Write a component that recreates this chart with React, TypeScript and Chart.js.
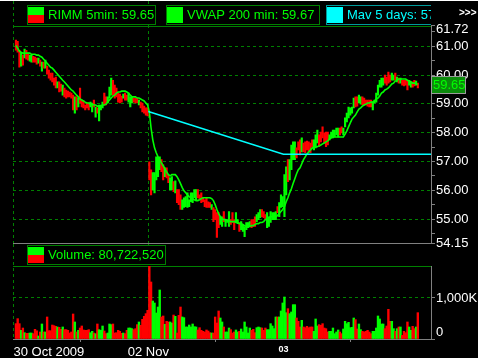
import React, { useEffect, useRef } from 'react';
import { Chart, registerables } from 'chart.js';

Chart.register(...registerables);

const W = 478;
const H = 358;
const FONT = '"Liberation Sans", Arial, Helvetica, sans-serif';

const UP = '#00ff00';
const DOWN = '#ff0000';
const MAV = '#00ffff';
const GRID = '#008000';
const AXIS = '#808080';
const TEXT = '#ffffff';

// RIMM 5-minute bars, numbered 1..233 along the x axis
// (30 Oct: 1-77, 02 Nov: 78-155, 03 Nov: 156-233)
const highs = [
  // 30 Oct
  61.21, 61.17, 60.86, 60.79, 60.69, 60.90, 60.86, 60.76, 60.69, 60.69,
  60.65, 60.62, 60.59, 60.59, 60.52, 60.45, 60.45, 60.52, 60.31, 60.17,
  60.07, 60.07, 59.89, 59.93, 59.76, 59.76, 59.69, 59.65, 59.55, 59.48,
  59.44, 59.41, 59.37, 59.30, 59.24, 59.24, 59.20, 59.55, 59.13, 59.10,
  58.96, 59.03, 59.03, 59.06, 59.03, 59.13, 58.89, 58.86, 58.96, 58.96,
  59.06, 59.37, 59.24, 59.24, 59.58, 59.89, 59.82, 59.65, 59.55, 59.37,
  59.34, 59.27, 59.34, 59.37, 59.30, 59.37, 59.24, 59.24, 59.20, 59.20,
  59.20, 59.13, 59.06, 59.03, 58.92, 58.86, 58.86,
  // 02 Nov
  56.99, 56.71, 56.61, 56.61, 57.16, 57.16, 57.16, 57.06, 56.88, 56.78,
  56.78, 56.54, 56.43, 56.47, 56.30, 56.33, 56.02, 56.02, 55.84, 55.67,
  55.74, 55.78, 55.91, 55.67, 55.91, 55.91, 56.02, 56.02, 56.02, 55.84,
  55.91, 55.74, 55.67, 55.74, 55.60, 55.57, 55.50, 55.40, 55.33, 55.22,
  55.22, 55.08, 55.08, 55.26, 54.98, 54.98, 55.26, 54.98, 55.22, 54.98,
  55.22, 54.98, 54.88, 54.91, 54.81, 54.74, 54.88, 54.88, 54.91, 54.98,
  54.98, 55.08, 55.15, 55.22, 55.33, 55.33, 55.26, 55.15, 55.22, 55.08,
  55.26, 55.22, 55.22, 55.26, 55.43, 55.57, 55.84, 55.78,
  // 03 Nov
  56.54, 56.81, 57.06, 57.06, 57.57, 57.68, 57.68, 57.47, 57.68, 57.75,
  57.82, 57.64, 57.68, 57.71, 57.68, 57.64, 57.75, 57.75, 57.92, 58.09,
  57.92, 58.02, 58.20, 57.99, 58.02, 58.02, 57.92, 58.02, 58.09, 58.09,
  58.16, 58.16, 58.16, 58.20, 58.16, 58.51, 58.68, 58.89, 58.86, 58.89,
  59.20, 59.24, 59.24, 59.30, 59.24, 59.24, 59.20, 59.13, 59.13, 59.13,
  59.13, 59.06, 59.13, 59.37, 59.65, 59.82, 59.89, 59.89, 60.00, 59.93,
  60.10, 60.00, 60.07, 60.00, 60.07, 59.93, 59.89, 59.89, 59.82, 59.82,
  59.82, 59.82, 59.82, 59.76, 59.76, 59.82, 59.79, 59.72,
];

const lows = [
  // 30 Oct
  60.86, 60.79, 60.27, 60.31, 60.34, 60.59, 60.55, 60.52, 60.48, 60.45,
  60.45, 60.45, 60.38, 60.41, 60.31, 60.13, 60.24, 60.24, 60.03, 59.89,
  59.82, 59.76, 59.65, 59.55, 59.55, 59.41, 59.44, 59.30, 59.24, 59.20,
  59.24, 59.24, 59.20, 58.79, 58.68, 58.79, 58.89, 59.03, 58.89, 58.86,
  58.79, 58.86, 58.79, 58.89, 58.72, 58.89, 58.54, 58.68, 58.41, 58.79,
  58.86, 58.96, 58.96, 59.03, 59.20, 59.30, 59.30, 59.20, 59.24, 59.06,
  59.03, 59.06, 59.20, 59.13, 59.13, 59.06, 58.89, 59.03, 59.06, 59.03,
  59.03, 58.96, 58.86, 58.72, 58.68, 58.61, 58.58,
  // 02 Nov
  56.36, 55.84, 56.02, 55.91, 56.36, 56.47, 56.71, 56.64, 56.36, 56.47,
  56.43, 56.26, 56.02, 56.02, 55.95, 55.91, 55.57, 55.50, 55.33, 55.33,
  55.40, 55.43, 55.40, 55.43, 55.60, 55.57, 55.74, 55.67, 55.74, 55.67,
  55.57, 55.60, 55.43, 55.40, 55.40, 55.40, 55.33, 54.91, 54.98, 54.36,
  54.70, 54.81, 54.74, 54.91, 54.74, 54.88, 54.74, 54.81, 54.88, 54.63,
  54.88, 54.84, 54.57, 54.63, 54.57, 54.39, 54.63, 54.70, 54.74, 54.70,
  54.74, 54.74, 54.91, 54.98, 55.05, 55.08, 55.05, 54.98, 54.70, 54.74,
  54.88, 54.98, 54.98, 54.98, 55.22, 55.08, 55.40, 55.43,
  // 03 Nov
  55.08, 55.84, 56.30, 56.36, 56.71, 57.06, 57.06, 57.12, 57.40, 57.23,
  57.33, 57.33, 57.30, 57.40, 57.33, 57.30, 57.51, 57.40, 57.47, 57.64,
  57.51, 57.68, 57.82, 57.64, 57.51, 57.57, 57.75, 57.82, 57.82, 57.85,
  57.92, 57.85, 57.92, 57.99, 57.92, 58.20, 58.37, 58.51, 58.61, 58.68,
  58.86, 58.89, 58.92, 59.03, 58.99, 58.96, 58.96, 58.96, 58.92, 58.89,
  58.89, 58.79, 59.03, 59.06, 59.30, 59.58, 59.58, 59.65, 59.72, 59.65,
  59.72, 59.76, 59.82, 59.82, 59.82, 59.76, 59.72, 59.72, 59.65, 59.62,
  59.65, 59.48, 59.65, 59.58, 59.58, 59.62, 59.65, 59.55,
];

// 1 = bar closed up (green), 0 = closed down (red)
const upBars = [
  0, 0, 0, 1, 0, 1, 0, 0, 1, 1,
  0, 0, 0, 1, 0, 1, 0, 1, 0, 0,
  0, 0, 0, 0, 1, 0, 0, 1, 0, 0,
  0, 0, 0, 0, 1, 0, 1, 0, 0, 0,
  0, 0, 0, 1, 1, 0, 1, 0, 1, 1,
  1, 0, 0, 1, 1, 1, 0, 0, 0, 0,
  0, 0, 1, 0, 0, 1, 1, 1, 0, 0,
  0, 1, 0, 0, 0, 0, 0,
  0, 0, 1, 1, 1, 1, 1, 0, 0, 1,
  0, 0, 1, 1, 0, 1, 0, 0, 0, 1,
  1, 1, 1, 1, 1, 1, 1, 1, 0, 0,
  0, 0, 0, 0, 0, 0, 1, 0, 0, 0,
  0, 1, 1, 0, 1, 1, 1, 0, 0, 0,
  1, 1, 0, 1, 1, 1, 1, 1, 1, 0,
  0, 0, 1, 1, 1, 0, 0, 0, 1, 1,
  1, 1, 1, 1, 0, 1, 1, 1,
  1, 1, 0, 1, 1, 1, 1, 0, 0, 0,
  1, 0, 0, 0, 0, 0, 0, 1, 1, 1,
  0, 0, 0, 0, 0, 0, 1, 1, 1, 1,
  1, 1, 0, 0, 1, 1, 1, 1, 1, 1,
  1, 0, 0, 1, 1, 0, 0, 0, 0, 0,
  0, 1, 1, 1, 1, 1, 1, 1, 0, 0,
  0, 0, 1, 1, 0, 1, 0, 1, 0, 0,
  0, 0, 1, 1, 0, 0, 1, 0,
];

// volume per bar, thousands of shares
const volumeK = [
  374, 496, 374, 211, 268, 154, 138, 138, 146, 146,
  130, 236, 200, 73, 171, 366, 171, 171, 537, 203,
  203, 341, 325, 309, 293, 285, 236, 293, 228, 228,
  211, 146, 171, 610, 415, 171, 211, 268, 317, 220,
  211, 211, 228, 154, 187, 146, 130, 366, 228, 211,
  317, 195, 130, 146, 366, 350, 366, 146, 154, 211,
  187, 138, 146, 130, 211, 268, 268, 252, 228, 252,
  350, 415, 333, 480, 553, 618, 700,
  1780, 1390, 927, 878, 634, 780, 1195, 537, 561, 358,
  431, 415, 415, 390, 585, 553, 146, 577, 780, 537,
  520, 293, 293, 341, 293, 366, 301, 293, 220, 276,
  211, 187, 171, 220, 195, 154, 146, 146, 537, 390,
  683, 512, 415, 293, 171, 171, 268, 228, 146, 171,
  220, 171, 187, 244, 171, 415, 293, 146, 268, 211,
  236, 154, 276, 293, 276, 268, 211, 268, 228, 228,
  374, 317, 252, 537, 537, 537, 683, 878,
  1024, 642, 740, 618, 659, 837, 837, 512, 431, 293,
  455, 293, 276, 309, 276, 293, 293, 187, 488, 317,
  350, 333, 374, 268, 252, 171, 187, 187, 268, 130,
  171, 220, 171, 130, 244, 431, 374, 407, 276, 285,
  512, 472, 244, 366, 228, 187, 171, 187, 211, 171,
  130, 187, 187, 268, 561, 488, 366, 366, 252, 317,
  724, 431, 431, 252, 187, 252, 293, 293, 89, 187,
  154, 415, 293, 211, 309, 252, 293, 642,
];

// 200-minute VWAP at each bar
const vwap200 = [
  61.03, 60.93, 60.83, 60.79, 60.76, 60.76, 60.76, 60.76, 60.76, 60.72,
  60.72, 60.72, 60.69, 60.69, 60.65, 60.62, 60.55, 60.48, 60.41, 60.34,
  60.27, 60.24, 60.17, 60.10, 60.03, 59.96, 59.89, 59.82, 59.76, 59.69,
  59.62, 59.55, 59.48, 59.44, 59.37, 59.30, 59.24, 59.17, 59.13, 59.10,
  59.06, 59.03, 59.03, 58.99, 58.99, 58.96, 58.96, 58.92, 58.92, 58.92,
  58.96, 58.96, 58.99, 59.06, 59.13, 59.20, 59.27, 59.30, 59.37, 59.41,
  59.41, 59.44, 59.44, 59.44, 59.41, 59.37, 59.30, 59.24, 59.24, 59.24,
  59.20, 59.20, 59.17, 59.13, 59.10, 59.03, 58.96,
  58.72, 58.16, 57.75, 57.47, 57.30, 57.16, 57.06, 56.95, 56.85, 56.74,
  56.64, 56.54, 56.50, 56.54, 56.54, 56.54, 56.47, 56.36, 56.23, 56.09,
  55.98, 55.91, 55.84, 55.78, 55.74, 55.71, 55.67, 55.64, 55.64, 55.67,
  55.71, 55.74, 55.74, 55.74, 55.74, 55.74, 55.71, 55.64, 55.50, 55.33,
  55.19, 55.08, 55.01, 54.98, 54.98, 54.95, 54.95, 54.91, 54.91, 54.91,
  54.88, 54.88, 54.84, 54.84, 54.81, 54.77, 54.74, 54.74, 54.74, 54.77,
  54.77, 54.81, 54.84, 54.84, 54.88, 54.88, 54.91, 54.98, 55.01, 55.05,
  55.08, 55.08, 55.08, 55.08, 55.12, 55.19, 55.26, 55.33,
  55.43, 55.60, 55.74, 55.91, 56.05, 56.23, 56.40, 56.57, 56.71, 56.78,
  56.92, 57.06, 57.16, 57.26, 57.33, 57.40, 57.47, 57.47, 57.51, 57.51,
  57.54, 57.57, 57.61, 57.64, 57.68, 57.71, 57.78, 57.82, 57.85, 57.85,
  57.85, 57.85, 57.85, 57.85, 57.85, 57.95, 58.06, 58.20, 58.34, 58.47,
  58.54, 58.61, 58.72, 58.82, 58.86, 58.92, 58.96, 58.99, 59.03, 59.03,
  59.06, 59.06, 59.10, 59.17, 59.20, 59.27, 59.37, 59.41, 59.48, 59.51,
  59.55, 59.62, 59.69, 59.72, 59.79, 59.82, 59.86, 59.86, 59.86, 59.86,
  59.86, 59.82, 59.79, 59.76, 59.72, 59.72, 59.69, 59.67,
];

// session boundaries on the bar axis and their labels
const sessionStarts = [-0.7, 77.4, 155.4];
const sessionLabels = ['30 Oct 2009', '02 Nov', '03'];
const X_MIN = -0.7;
const X_MAX = 240.6;

// 5-day moving average, one value per session (02 Nov, 03 Nov)
const mav5Days = [58.73, 57.25];

const PRICE_MIN = 54.15;
const PRICE_MAX = 61.72;
const priceTicks = [
  54.15, 54.5, 55, 55.5, 56, 56.5, 57, 57.5, 58, 58.5,
  59, 59.5, 60, 60.5, 61, 61.5, 61.72,
];
const volumeTicksK = [0, 1000];
const VOLUME_MAX_K = 1780;

const lastPrice = 59.65;
const totalVolume = 80722520;

const barNumbers = highs.map((_, k) => k + 1);
const barColors = upBars.map((u) => (u ? UP : DOWN));

const isWhole = (v: number | undefined) =>
  v !== undefined && Math.abs(v - Math.round(v)) < 1e-6;

function legendBox(
  ctx: CanvasRenderingContext2D,
  x: number, y: number, w: number, h: number,
  border: string, swatchTop: string, swatchBottom: string,
  text: string, textColor: string,
) {
  ctx.fillStyle = '#000';
  ctx.fillRect(x, y, w, h);
  ctx.strokeStyle = border;
  ctx.lineWidth = 1;
  ctx.setLineDash([]);
  ctx.strokeRect(x + 0.5, y + 0.5, w - 1, h - 1);
  const sx = x + 1, sy = y + 2, sw = 16, sh = h - 4;
  const half = Math.floor(sh / 2);
  ctx.fillStyle = swatchTop;
  ctx.fillRect(sx, sy, sw, half);
  ctx.fillStyle = swatchBottom;
  ctx.fillRect(sx, sy + half, sw, sh - half);
  ctx.fillStyle = textColor;
  ctx.font = `13px ${FONT}`;
  ctx.textAlign = 'left';
  ctx.textBaseline = 'middle';
  ctx.fillText(text, sx + sw + 4, y + h / 2 + 0.5);
}

function sessionLines(chart: any, yTop: number) {
  const { ctx, chartArea: a, scales } = chart;
  ctx.save();
  ctx.strokeStyle = GRID;
  ctx.lineWidth = 1;
  ctx.setLineDash([3, 3]);
  for (const s of sessionStarts.slice(0, 2)) {
    const px = Math.round(scales.x.getPixelForValue(s)) + 0.5;
    ctx.beginPath();
    ctx.moveTo(px, yTop);
    ctx.lineTo(px, a.bottom);
    ctx.stroke();
  }
  ctx.restore();
}

const pricePanel = {
  id: 'pricePanel',
  beforeDatasetsDraw(chart: any) {
    const { ctx, chartArea: a } = chart;
    sessionLines(chart, 1);
    ctx.save();
    ctx.lineWidth = 1;
    ctx.strokeStyle = GRID;
    ctx.beginPath();
    ctx.moveTo(a.left, Math.round(a.top) + 0.5);
    ctx.lineTo(a.right, Math.round(a.top) + 0.5);
    ctx.stroke();
    ctx.strokeStyle = AXIS;
    ctx.beginPath();
    ctx.moveTo(a.left, Math.floor(a.bottom) + 0.5);
    ctx.lineTo(a.right, Math.floor(a.bottom) + 0.5);
    ctx.stroke();
    ctx.restore();
  },
  afterDraw(chart: any) {
    const { ctx, chartArea: a, scales } = chart;
    ctx.save();
    ctx.fillStyle = '#ffffff';
    ctx.fillRect(0, 0, W, 1);

    legendBox(ctx, 27, 5, 129, 20, GRID, UP, DOWN, `RIMM 5min: ${lastPrice.toFixed(2)}`, UP);
    legendBox(ctx, 166, 5, 154, 20, GRID, UP, UP,
      `VWAP 200 min: ${vwap200[vwap200.length - 1].toFixed(2)}`, UP);
    ctx.save();
    ctx.beginPath();
    ctx.rect(0, 0, a.right, a.top);
    ctx.clip();
    legendBox(ctx, 326, 5, 150, 20, '#009a9a', MAV, MAV,
      `Mav 5 days: ${mav5Days[mav5Days.length - 1].toFixed(2)}`, MAV);
    ctx.restore();

    ctx.fillStyle = TEXT;
    ctx.font = `bold 10px ${FONT}`;
    ctx.textAlign = 'left';
    ctx.textBaseline = 'middle';
    ctx.fillText('>>>', 459, 13);

    // top-of-range label sits just under its tick
    ctx.font = `13px ${FONT}`;
    ctx.fillText(PRICE_MAX.toFixed(2), a.right + 5, a.top + 4);

    // last price flag on the axis
    const py = scales.y.getPixelForValue(lastPrice);
    const bx = a.right, by = Math.round(py) - 9;
    ctx.fillStyle = '#0b8a0b';
    ctx.fillRect(bx, by, 35, 18);
    ctx.strokeStyle = '#9a9a9a';
    ctx.strokeRect(bx + 0.5, by + 0.5, 34, 17);
    ctx.fillStyle = UP;
    ctx.fillText(lastPrice.toFixed(2), bx + 2, by + 9.5);
    ctx.restore();
  },
};

const volumePanel = {
  id: 'volumePanel',
  beforeDatasetsDraw(chart: any) {
    const { ctx, chartArea: a } = chart;
    sessionLines(chart, 244);
    ctx.save();
    ctx.strokeStyle = GRID;
    ctx.lineWidth = 1;
    ctx.beginPath();
    ctx.moveTo(a.left, Math.round(a.top) + 0.5);
    ctx.lineTo(a.right, Math.round(a.top) + 0.5);
    ctx.stroke();
    ctx.restore();
  },
  afterDraw(chart: any) {
    const { ctx, chartArea: a, scales } = chart;
    ctx.save();
    legendBox(ctx, 27, 245, 139, 20, GRID, UP, DOWN,
      `Volume: ${totalVolume.toLocaleString('en-US')}`, UP);

    ctx.fillStyle = TEXT;
    ctx.textBaseline = 'middle';
    ctx.font = `13px ${FONT}`;
    ctx.textAlign = 'left';
    ctx.fillText('0', a.right + 5, scales.y.getPixelForValue(0) - 7);

    const x0 = scales.x.getPixelForValue(sessionStarts[0]);
    ctx.fillText(sessionLabels[0], x0 + 0.5, 352);
    ctx.textAlign = 'center';
    ctx.fillText(sessionLabels[1], scales.x.getPixelForValue(sessionStarts[1]), 352);
    ctx.font = `bold 9px ${FONT}`;
    ctx.fillText(sessionLabels[2], scales.x.getPixelForValue(sessionStarts[2]), 350);
    ctx.restore();
  },
};

export default function App() {
  const priceRef = useRef<HTMLCanvasElement>(null);
  const volumeRef = useRef<HTMLCanvasElement>(null);

  useEffect(() => {
    document.body.style.margin = '0';
    document.body.style.background = '#000';

    const priceChart = new Chart(priceRef.current as HTMLCanvasElement, {
      type: 'bar',
      data: {
        datasets: [
          {
            type: 'line',
            label: 'Mav 5 days',
            data: [
              { x: sessionStarts[1], y: mav5Days[0] },
              { x: sessionStarts[2], y: mav5Days[1] },
              { x: X_MAX, y: mav5Days[1] },
            ],
            borderColor: MAV,
            borderWidth: 1.6,
            pointRadius: 0,
            tension: 0,
            order: 0,
          } as any,
          {
            type: 'line',
            label: 'VWAP 200 min',
            data: barNumbers.map((n, k) => ({ x: n, y: vwap200[k] })),
            borderColor: UP,
            borderWidth: 1.6,
            pointRadius: 0,
            tension: 0,
            order: 1,
          } as any,
          {
            type: 'bar',
            label: 'RIMM 5min',
            data: barNumbers.map((n, k) => ({ x: n, y: [lows[k], highs[k]] })),
            backgroundColor: barColors,
            borderWidth: 0,
            barThickness: 1.5,
            order: 2,
          } as any,
        ],
      },
      options: {
        responsive: false,
        animation: false,
        events: [],
        layout: { padding: { top: 25.5, left: 13, right: 0, bottom: H - 243.5 } },
        plugins: { legend: { display: false }, tooltip: { enabled: false } },
        scales: {
          x: { type: 'linear', min: X_MIN, max: X_MAX, offset: false, display: false },
          y: {
            type: 'linear',
            position: 'right',
            min: PRICE_MIN,
            max: PRICE_MAX,
            afterBuildTicks: (s: any) => {
              s.ticks = priceTicks.map((v) => ({ value: v }));
            },
            afterFit: (s: any) => {
              s.width = 47;
            },
            ticks: {
              autoSkip: false,
              color: TEXT,
              padding: 1,
              font: { family: FONT, size: 13 },
              callback: (v: any) => {
                const n = Number(v);
                if (n === PRICE_MIN) return n.toFixed(2);
                return isWhole(n) ? n.toFixed(2) : '';
              },
            },
            grid: {
              color: (c: any) => (isWhole(c.tick?.value) ? GRID : 'transparent'),
              lineWidth: 1,
              tickLength: 4,
              tickColor: AXIS,
              tickBorderDash: [],
            },
            border: { display: true, color: AXIS, width: 1, dash: [3, 3] },
          },
        },
      } as any,
      plugins: [pricePanel],
    });

    const volumeChart = new Chart(volumeRef.current as HTMLCanvasElement, {
      type: 'bar',
      data: {
        datasets: [
          {
            label: 'Volume',
            data: barNumbers.map((n, k) => ({ x: n, y: volumeK[k] })),
            backgroundColor: barColors,
            borderWidth: 0,
            barPercentage: 1,
            categoryPercentage: 1,
          } as any,
        ],
      },
      options: {
        responsive: false,
        animation: false,
        events: [],
        layout: { padding: { top: 266, left: 13, right: 0, bottom: 0 } },
        plugins: { legend: { display: false }, tooltip: { enabled: false } },
        scales: {
          x: {
            type: 'linear',
            position: 'bottom',
            min: X_MIN,
            max: X_MAX,
            offset: false,
            afterBuildTicks: (s: any) => {
              s.ticks = sessionStarts.map((v) => ({ value: v }));
            },
            afterFit: (s: any) => {
              s.height = H - 339;
            },
            ticks: { display: false },
            grid: {
              drawOnChartArea: false,
              drawTicks: true,
              tickLength: 3,
              tickColor: AXIS,
              color: AXIS,
            },
            border: { display: true, color: AXIS, width: 1 },
          },
          y: {
            type: 'linear',
            position: 'right',
            min: 0,
            max: VOLUME_MAX_K,
            afterBuildTicks: (s: any) => {
              s.ticks = volumeTicksK.map((v) => ({ value: v }));
            },
            afterFit: (s: any) => {
              s.width = 47;
            },
            ticks: {
              autoSkip: false,
              color: TEXT,
              padding: 1,
              font: { family: FONT, size: 13 },
              callback: (v: any) =>
                Number(v) === 1000 ? `${(1000).toLocaleString('en-US')}K` : '',
            },
            grid: {
              color: (c: any) => (c.tick?.value === 1000 ? GRID : 'transparent'),
              lineWidth: 1,
              tickLength: 4,
              tickColor: AXIS,
              tickBorderDash: [],
            },
            border: { display: true, color: AXIS, width: 1, dash: [3, 3] },
          },
        },
      } as any,
      plugins: [volumePanel],
    });

    return () => {
      priceChart.destroy();
      volumeChart.destroy();
    };
  }, []);

  const canvasStyle: React.CSSProperties = {
    position: 'absolute',
    left: 0,
    top: 0,
    width: W,
    height: H,
  };

  return (
    <div style={{ position: 'relative', width: W, height: H, background: '#000', overflow: 'hidden' }}>
      <canvas ref={priceRef} width={W} height={H} style={canvasStyle} />
      <canvas ref={volumeRef} width={W} height={H} style={canvasStyle} />
    </div>
  );
}
